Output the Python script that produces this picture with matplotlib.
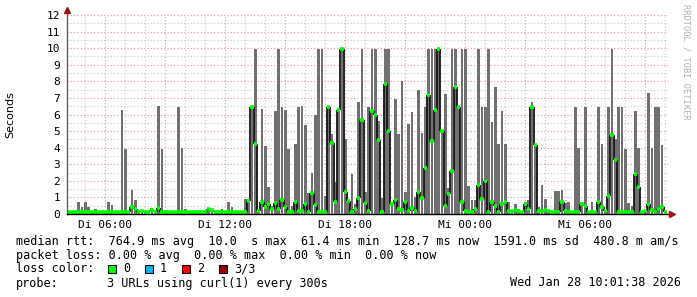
import numpy as np
import matplotlib
matplotlib.use('Agg')
import matplotlib.pyplot as plt
from matplotlib.patches import Rectangle

# smokeping rtt, 10 minute bins starting Di 04:06 (hours since Di 00:00)
smoke_top = [
    0.2, 0.1, 0.1, 0.7, 0.45, 0.7, 0.45, 0.1, 0.3, 0.15,
    0.15, 0.15, 0.7, 0.55, 0.1, 0.1, 6.3, 3.9, 0.15, 1.45,
    0.85, 0.25, 0.25, 0.2, 0.2, 0.35, 0.2, 6.5, 3.9, 0.15,
    0.12, 0.12, 0.12, 6.45, 3.95, 0.3, 0.12, 0.12, 0.15, 0.1,
    0.1, 0.1, 0.3, 0.3, 0.12, 0.12, 0.3, 0.15, 0.7, 0.4,
    0.12, 0.12, 0.12, 0.9, 0.9, 6.45, 9.95, 0.3, 6.35, 4.1,
    1.6, 0.5, 6.2, 9.95, 6.45, 6.3, 3.9, 0.5, 4.25, 6.45,
    6.5, 5.35, 1.25, 2.5, 6.0, 9.95, 9.95, 1.1, 6.45, 4.85,
    1.9, 6.25, 9.95, 4.55, 0.85, 2.4, 0.6, 6.75, 9.95, 1.35,
    6.45, 9.95, 9.95, 5.6, 0.95, 9.95, 9.95, 0.75, 6.95, 4.8,
    8.05, 1.3, 5.45, 6.15, 1.05, 7.5, 4.9, 6.45, 9.95, 9.95,
    9.95, 9.95, 5.05, 7.25, 1.55, 9.95, 9.95, 6.45, 9.95, 9.95,
    1.7, 0.85, 0.85, 9.95, 6.45, 6.45, 9.95, 5.55, 7.65, 4.25,
    6.2, 4.25, 0.7, 0.25, 0.6, 0.3, 0.15, 0.7, 0.85, 6.75,
    4.15, 0.4, 1.75, 0.9, 0.25, 0.15, 1.4, 1.4, 1.45, 0.65,
    0.7, 0.1, 6.45, 3.95, 0.65, 6.45, 0.15, 0.7, 0.1, 6.45,
    4.2, 0.25, 6.45, 9.95, 4.5, 6.45, 6.45, 3.9, 0.65, 0.5,
    6.2, 4.0, 0.15, 0.25, 7.3, 3.95, 6.45, 6.45, 4.15, 0.1,
]
median = [
    0.12, 0.1, 0.1, 0.15, 0.15, 0.12, 0.15, 0.1, 0.15, 0.12,
    0.12, 0.12, 0.15, 0.12, 0.1, 0.1, 0.15, 0.12, 0.12, 0.45,
    0.3, 0.1, 0.2, 0.15, 0.12, 0.25, 0.15, 0.35, 0.12, 0.12,
    0.1, 0.1, 0.1, 0.12, 0.12, 0.15, 0.1, 0.1, 0.1, 0.1,
    0.1, 0.1, 0.3, 0.25, 0.1, 0.1, 0.12, 0.1, 0.15, 0.12,
    0.1, 0.1, 0.12, 0.15, 0.8, 6.45, 4.2, 0.2, 0.7, 0.4,
    0.6, 0.3, 0.65, 0.3, 0.85, 0.45, 0.1, 0.15, 0.7, 0.2,
    0.2, 0.6, 0.1, 1.25, 0.55, 0.15, 0.15, 0.1, 6.45, 4.3,
    0.7, 6.25, 9.95, 1.35, 0.8, 0.15, 0.3, 0.95, 5.65, 0.65,
    0.2, 6.2, 6.0, 4.45, 0.1, 7.85, 5.0, 0.6, 0.85, 0.3,
    0.25, 0.75, 0.2, 0.35, 0.2, 1.35, 0.95, 2.75, 7.2, 4.4,
    6.25, 9.95, 5.0, 0.5, 1.2, 2.6, 7.65, 6.45, 0.7, 0.2,
    0.15, 0.15, 0.3, 1.75, 0.9, 2.0, 0.1, 0.7, 0.5, 0.15,
    0.6, 0.7, 0.2, 0.2, 0.25, 0.2, 0.12, 0.6, 0.3, 6.45,
    4.15, 0.2, 0.2, 0.25, 0.2, 0.12, 0.15, 0.15, 0.7, 0.2,
    0.15, 0.1, 0.15, 0.15, 0.6, 0.5, 0.12, 0.15, 0.1, 0.7,
    0.45, 0.2, 1.1, 4.75, 3.25, 0.15, 0.1, 0.15, 0.1, 0.1,
    2.4, 1.65, 0.12, 0.2, 0.6, 0.25, 0.15, 0.3, 0.4, 0.1,
]
x_ticks = [6, 12, 18, 24, 30]
x_labels = ['Di 06:00', 'Di 12:00', 'Di 18:00', 'Mi 00:00', 'Mi 06:00']
stats_line = 'median rtt:  764.9 ms avg  10.0  s max  61.4 ms min  128.7 ms now  1591.0 ms sd  480.8 m am/s'
loss_line = 'packet loss: 0.00 % avg  0.00 % max  0.00 % min  0.00 % now'
loss_labels = ['0', '1', '2', '3/3']
loss_colors = ['#00ff00', '#00b8ff', '#ff0000', '#a00000']
probe_text = '3 URLs using curl(1) every 300s'
stamp = 'Wed Jan 28 10:01:38 2026'

W, H = 697, 297
MONO = 'DejaVu Sans Mono'
FS = 8.5
t0 = 4.1
step = 1 / 6
t = t0 + np.arange(len(smoke_top)) * step
med = np.array(median)

def fx(px):
    return px / W

def fy(py):
    return 1 - py / H

fig = plt.figure(figsize=(W / 100, H / 100), dpi=100)
fig.patch.set_facecolor('white')
ax = fig.add_axes([fx(67), fy(214), 601 / W, 199 / H])
ax.set_xlim(t0, t0 + 601 / 20)
ax.set_ylim(0, 12)
for s in ax.spines.values():
    s.set_visible(False)

# grid, dotted like rrdtool
dots = (0, (1, 2))
for h in range(5, 35):
    major = (h % 3 == 0)
    ax.axvline(h, color='#e09a9a' if major else '#c8c8c8', lw=0.8, ls=dots, zorder=0)
for v in np.arange(0.5, 12.01, 0.5):
    major = float(v).is_integer()
    ax.axhline(v, color='#e09a9a' if major else '#c8c8c8', lw=0.8, ls=dots, zorder=0)

# smoke
ax.bar(t + 0.1 * step, smoke_top, width=0.8 * step, align='edge', color='#707070',
       linewidth=0, zorder=2)
# median line: dark jumps, green (0 loss) per sample
ax.vlines(t[1:], med[:-1], med[1:], color='#151515', lw=1.3, zorder=3)
ax.hlines(med, t, t + step, color='#00ff00', lw=2.6, zorder=4)

# axes with arrows
ax.plot([t0, t0], [0, 12.3], color='#606060', lw=1, clip_on=False, zorder=5)
ax.plot([t0, t0 + 601 / 20 + 0.2], [0, 0], color='black', lw=1, clip_on=False, zorder=5)
ax.plot([t0], [12.3], marker='^', ms=4, color='#a01010', clip_on=False, zorder=6)
ax.plot([t0 + 601 / 20 + 0.2], [0], marker='>', ms=4, color='#a01010', clip_on=False, zorder=6)

ax.set_yticks(range(13))
ax.set_yticklabels([str(i) for i in range(13)], family=MONO, fontsize=8)
ax.set_xticks(x_ticks)
ax.set_xticklabels(x_labels, family=MONO, fontsize=8)
ax.tick_params(length=0, pad=4)
ax.tick_params(axis='y', pad=5)

fig.text(fx(10), fy(115), 'Seconds', rotation=90, ha='center', va='center', fontsize=8)
fig.text(fx(686), fy(4), 'RRDTOOL / TOBI OETIKER', rotation=270, ha='center', va='top',
         fontsize=6.2, family=MONO, color='#b0b0b0')

# legend / stats block
fig.text(fx(16), fy(241), stats_line, family=MONO, fontsize=FS, va='center')
fig.text(fx(16), fy(255), loss_line, family=MONO, fontsize=FS, va='center')
fig.text(fx(16), fy(269), 'loss color:', family=MONO, fontsize=FS, va='center')
bx = 108
for lab, col in zip(loss_labels, loss_colors):
    fig.patches.append(Rectangle((fx(bx), fy(273)), 8 / W, 8 / H, transform=fig.transFigure,
                                 facecolor=col, edgecolor='black', lw=0.8))
    fig.text(fx(bx + 15), fy(269), lab, family=MONO, fontsize=FS, va='center')
    bx += 37
fig.text(fx(16), fy(283), 'probe:', family=MONO, fontsize=FS, va='center')
fig.text(fx(107), fy(283), probe_text, family=MONO, fontsize=FS, va='center')
fig.text(fx(681), fy(283), stamp, family=MONO, fontsize=FS, va='center', ha='right')

fig.savefig('out.png', dpi=100)
